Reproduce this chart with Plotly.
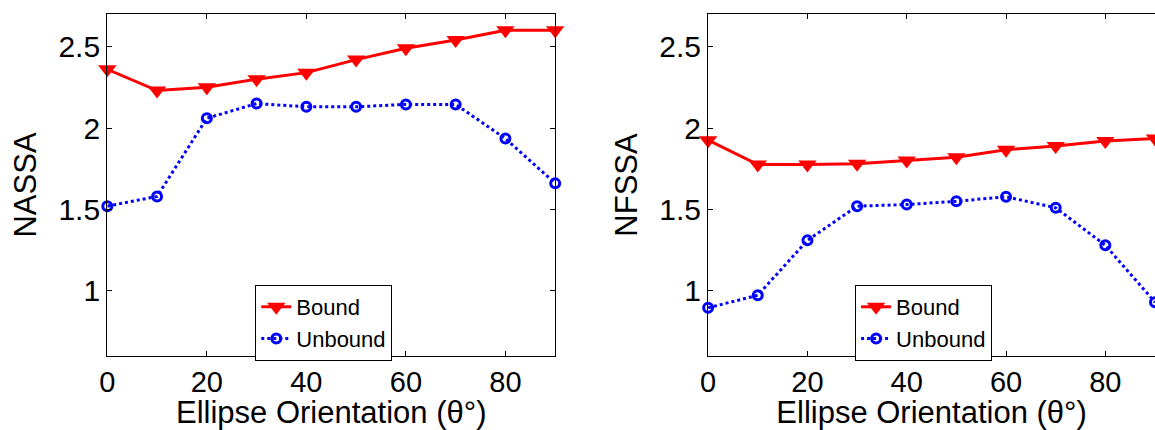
import plotly.graph_objects as go

angles = [0, 10, 20, 30, 40, 50, 60, 70, 80, 90]
nassa_bound = [2.36, 2.23, 2.25, 2.30, 2.34, 2.42, 2.49, 2.54, 2.60, 2.60]
nassa_unbound = [1.52, 1.58, 2.06, 2.15, 2.13, 2.13, 2.145, 2.145, 1.935, 1.66]
nfssa_bound = [1.925, 1.776, 1.776, 1.78, 1.80, 1.82, 1.867, 1.89, 1.92, 1.935]
nfssa_unbound = [0.896, 0.973, 1.31, 1.52, 1.53, 1.55, 1.578, 1.51, 1.28, 0.93]
series_names = ["Bound", "Unbound"]
x_ticks = [0, 20, 40, 60, 80]
y_ticks = [1, 1.5, 2, 2.5]
y_tick_labels = ["1", "1.5", "2", "2.5"]

W, H = 1155, 430
FONT = "Arial, Liberation Sans, sans-serif"

fig = go.Figure()

def add_pair(bound, unbound, xa, ya, leg):
    fig.add_trace(go.Scatter(
        x=angles, y=bound, name=series_names[0], mode="lines+markers",
        line=dict(color="#ff0000", width=3),
        marker=dict(symbol="triangle-down", size=16, color="#ff0000"),
        xaxis=xa, yaxis=ya, legend=leg, cliponaxis=False))
    fig.add_trace(go.Scatter(
        x=angles, y=unbound, name=series_names[1], mode="lines+markers",
        line=dict(color="#0000ff", width=3, dash="dot"),
        marker=dict(symbol="circle-open", size=9, color="#0000ff",
                    line=dict(width=3, color="#0000ff")),
        xaxis=xa, yaxis=ya, legend=leg, cliponaxis=False))

add_pair(nassa_bound, nassa_unbound, "x", "y", "legend")
add_pair(nfssa_bound, nfssa_unbound, "x2", "y2", "legend2")

base_axis = dict(showline=True, linecolor="black", linewidth=1.3,
                 ticks="inside", ticklen=5, tickwidth=1, tickcolor="black",
                 showgrid=False, zeroline=False)
xaxis_common = dict(base_axis, tickfont=dict(family=FONT, size=29, color="black"),
                    ticklabelstandoff=0)
yaxis_common = dict(base_axis, tickfont=dict(family=FONT, size=30, color="black"))

TF = dict(family=FONT, size=31, color="black")
xt = dict(text="Ellipse Orientation (θ°)", font=TF, standoff=8)

leg_common = dict(xanchor="left", yanchor="top", bgcolor="white",
                  bordercolor="black", borderwidth=1,
                  font=dict(family=FONT, size=22, color="black"), tracegroupgap=0)

fig.update_layout(
    width=W, height=H,
    margin=dict(l=0, r=0, t=14, b=74),
    paper_bgcolor="white", plot_bgcolor="white",
    showlegend=True,
    xaxis=dict(domain=[100 / W, 551 / W], range=[0, 90], tickvals=x_ticks,
               mirror="ticks", title=xt, anchor="y", **xaxis_common),
    yaxis=dict(domain=[0, 1], range=[0.6, 2.7], tickvals=y_ticks, ticktext=y_tick_labels,
               mirror="ticks", anchor="x",
               title=dict(text="NASSA", font=TF, standoff=12),
               **yaxis_common),
    xaxis2=dict(domain=[705 / W, 1.0], range=[0, 90], tickvals=x_ticks,
                mirror="ticks", title=xt, anchor="y2", **xaxis_common),
    yaxis2=dict(domain=[0, 1], range=[0.6, 2.7], tickvals=y_ticks, ticktext=y_tick_labels,
                mirror=False, anchor="x2",
                title=dict(text="NFSSA", font=TF, standoff=12),
                **yaxis_common),
    legend=dict(x=249 / W, y=1 - (285 - 14) / 342, **leg_common),
    legend2=dict(x=853 / W, y=1 - (285 - 14) / 342, **leg_common),
)

fig.write_html("out.html")
